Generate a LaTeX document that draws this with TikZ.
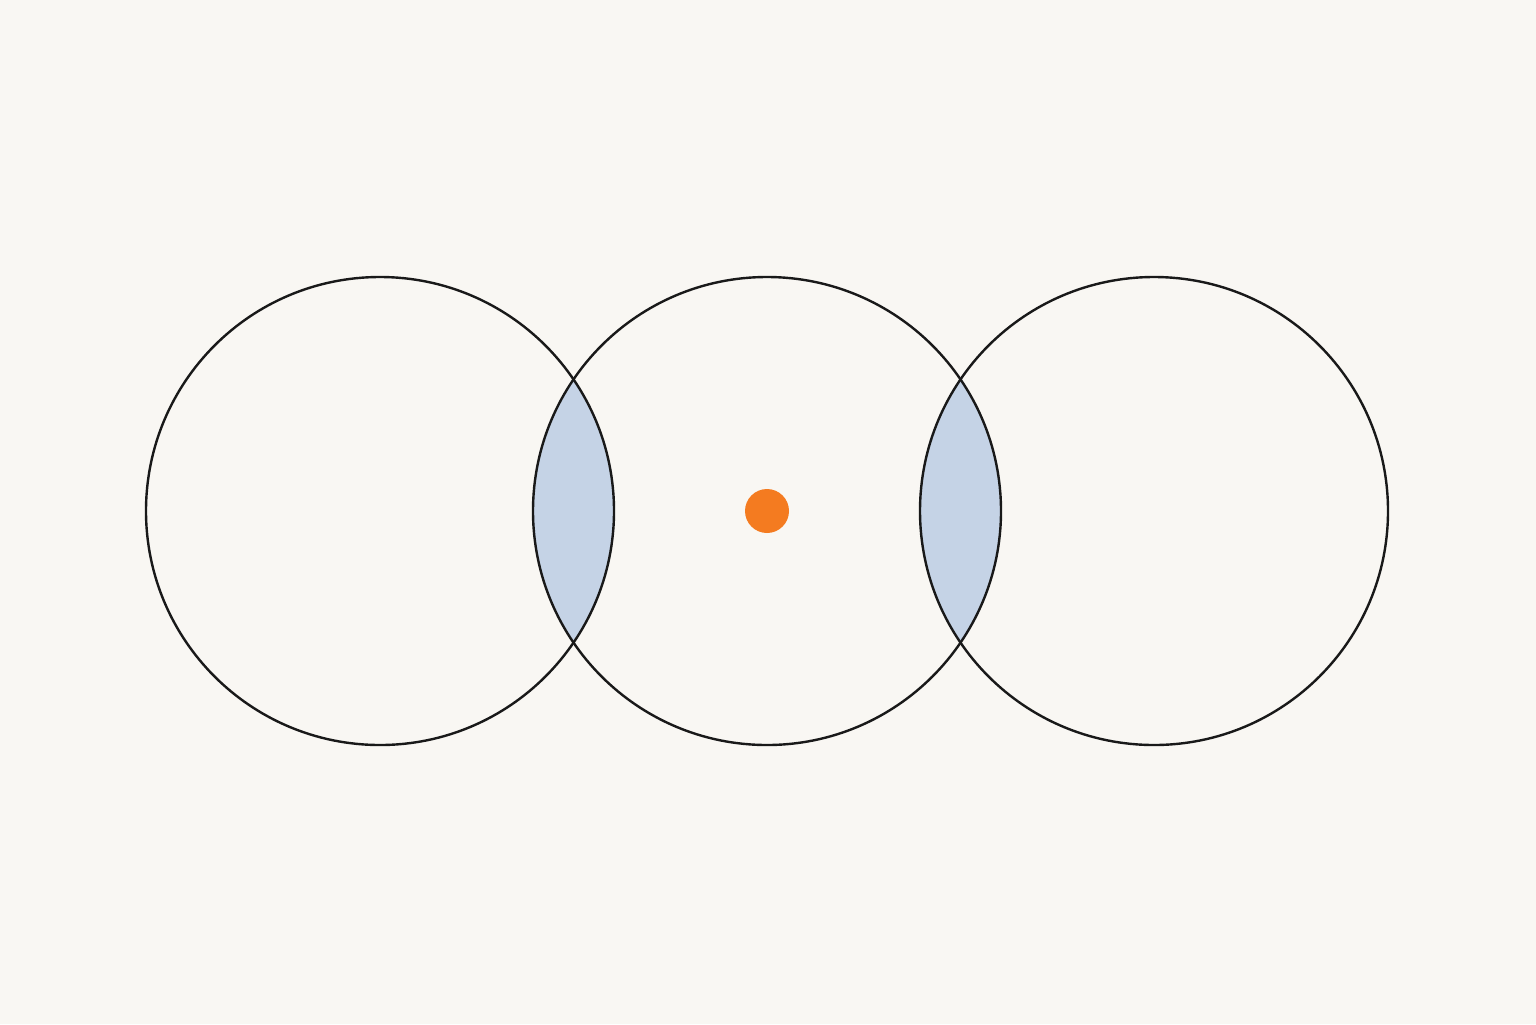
\documentclass[tikz,border=0pt]{standalone}
\begin{document}
\begin{tikzpicture}[x=0.5pt,y=-0.5pt]
\definecolor{bgc}{HTML}{F9F7F3}
\definecolor{lensc}{HTML}{C5D3E6}
\definecolor{dotc}{HTML}{F47B20}
\tikzset{ring/.style={draw=black!90,line width=1.2pt}}
\fill[bgc] (0,0) rectangle (1536,1024);
\useasboundingbox (0,0) rectangle (1536,1024);
\coordinate (A) at (380,511);
\coordinate (B) at (767,511);
\coordinate (C) at (1154,511);
\begin{scope}
\clip (A) circle[radius=234];
\fill[lensc] (B) circle[radius=234];
\end{scope}
\begin{scope}
\clip (B) circle[radius=234];
\fill[lensc] (C) circle[radius=234];
\end{scope}
\draw[ring] (A) circle[radius=234];
\draw[ring] (B) circle[radius=234];
\draw[ring] (C) circle[radius=234];
\fill[dotc] (B) circle[radius=22];
\end{tikzpicture}
\end{document}
